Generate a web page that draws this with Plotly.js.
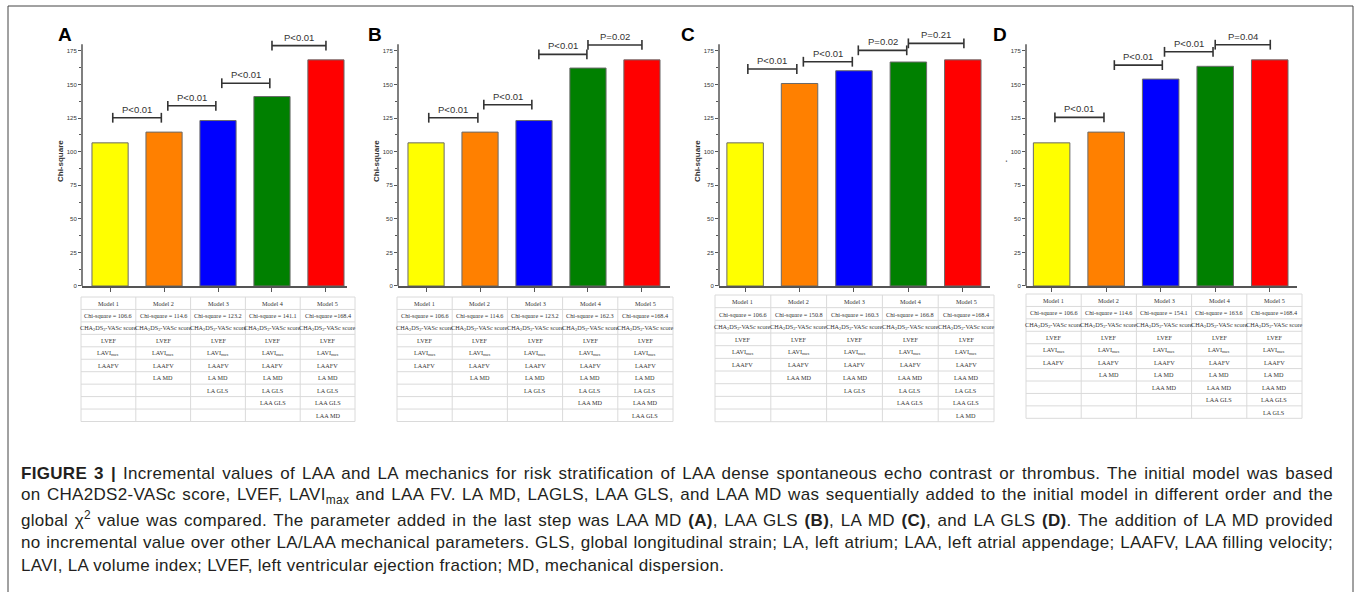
<!DOCTYPE html>
<html><head><meta charset="utf-8">
<script src="https://cdn.plot.ly/plotly-3.0.1.min.js"></script>
<style>html,body{margin:0;padding:0;background:#fff}#chart{width:1357px;height:592px}</style>
</head><body><div id="chart"></div>
<script>
// ---------- data ----------
const models = ['Model 1','Model 2','Model 3','Model 4','Model 5'];
const barColors = ['#FFFF00','#FF8000','#0000FF','#008000','#FF0000'];
const panelLetters = ['A','B','C','D'];
const chiA = [106.6,114.6,123.2,141.1,168.4];
const chiB = [106.6,114.6,123.2,162.3,168.4];
const chiC = [106.6,150.8,160.3,166.8,168.4];
const chiD = [106.6,114.6,154.1,163.6,168.4];
const baseVars = ['CHA<sub>2</sub>DS<sub>2</sub>-VASc score','LVEF','LAVI<sub>max</sub>','LAAFV'];
const addA = ['LA MD','LA GLS','LAA GLS','LAA MD'];
const addB = ['LA MD','LA GLS','LAA MD','LAA GLS'];
const addC = ['LAA MD','LA GLS','LAA GLS','LA MD'];
const addD = ['LA MD','LAA MD','LAA GLS','LA GLS'];
const pLabA = ['P<0.01','P<0.01','P<0.01','P<0.01'];
const pLabB = ['P<0.01','P<0.01','P<0.01','P=0.02'];
const pLabC = ['P<0.01','P<0.01','P=0.02','P=0.21'];
const pLabD = ['P<0.01','P<0.01','P<0.01','P=0.04'];
const pYA = [125.3,134.2,151.0,179.0];
const pYB = [125.3,135.0,172.5,179.5];
const pYC = [161.6,167.0,175.5,180.7];
const pYD = [125.6,164.5,174.4,179.7];
const pSpanA = [[0.05,0.95],[1.07,1.96],[2.07,2.96],[3.0,4.0]];
const pSpanB = [[0.05,0.96],[1.07,1.96],[2.09,2.98],[3.0,4.0]];
const pSpanC = [[0.05,0.95],[1.07,1.97],[2.08,2.97],[3.0,4.02]];
const pSpanD = [[0.06,0.96],[1.15,2.03],[2.07,2.96],[3.0,4.01]];
const yTicks = [0,25,50,75,100,125,150,175];
const yMinor = [12.5,37.5,62.5,87.5,112.5,137.5,162.5];
const yTitles = ['Chi-square','Chi-square','Chi-square','.'];
const caption = [
 '<b>FIGURE 3 |</b> Incremental values of LAA and LA mechanics for risk stratification of LAA dense spontaneous echo contrast or thrombus. The initial model was based',
 'on CHA2DS2-VASc score, LVEF, LAVI<sub>max</sub> and LAA FV. LA MD, LAGLS, LAA GLS, and LAA MD was sequentially added to the initial model in different order and the',
 'global χ<sup>2</sup> value was compared. The parameter added in the last step was LAA MD <b>(A)</b>, LAA GLS <b>(B)</b>, LA MD <b>(C)</b>, and LA GLS <b>(D)</b>. The addition of LA MD provided',
 'no incremental value over other LA/LAA mechanical parameters. GLS, global longitudinal strain; LA, left atrium; LAA, left atrial appendage; LAAFV, LAA filling velocity;',
 'LAVI, LA volume index; LVEF, left ventricular ejection fraction; MD, mechanical dispersion.'
];

// ---------- layout geometry (pixels) ----------
const W = 1357, H = 592;
const px = v => v / W, py = v => 1 - v / H;
const panels = [
  {chi:chiA, add:addA, lab:pLabA, ys:pYA, span:pSpanA, px0:82,  px1:347, range:[-0.52,4.39], tab:[81,355,297,12.45],   letter:[65,35]},
  {chi:chiB, add:addB, lab:pLabB, ys:pYB, span:pSpanB, px0:398, px1:670, range:[-0.52,4.52], tab:[397,673,297,12.45],  letter:[375,35]},
  {chi:chiC, add:addC, lab:pLabC, ys:pYC, span:pSpanC, px0:719, px1:990, range:[-0.48,4.50], tab:[715,994,295,12.67],  letter:[688,35]},
  {chi:chiD, add:addD, lab:pLabD, ys:pYD, span:pSpanD, px0:1026,px1:1297,range:[-0.47,4.50], tab:[1026,1302,294,12.43],letter:[1000,35]}
];
const plotBottom = 286, yMax = 186, pxPerUnit = 235/175;
const plotTop = plotBottom - yMax*pxPerUnit;

const data = [], annotations = [], shapes = [];
const layout = {
  width: W, height: H, margin:{l:0,r:0,t:0,b:0}, showlegend:false,
  paper_bgcolor:'#fff', plot_bgcolor:'rgba(0,0,0,0)',
  font:{family:'Liberation Sans, Arial, sans-serif', color:'#333'},
  annotations, shapes
};
const tabFont = {family:'Liberation Serif, Times New Roman, serif', size:6.2, color:'#333'};
const gridCol = '#dadada';

panels.forEach((p, i) => {
  const n = i === 0 ? '' : String(i+1);
  const xa = 'x'+n, ya = 'y'+n;
  layout['xaxis'+n] = {
    domain:[px(p.px0), px(p.px1)], range:p.range, anchor:ya,
    tickvals:[0,1,2,3,4], showticklabels:false, ticks:'outside', ticklen:4, tickwidth:1, tickcolor:'#555',
    showline:true, linecolor:'#555', linewidth:1.5, showgrid:false, zeroline:false, fixedrange:true
  };
  layout['yaxis'+n] = {
    domain:[py(plotBottom), py(plotTop)], range:[0,yMax], anchor:xa,
    tickvals:yTicks, ticks:'outside', ticklen:3, tickwidth:1, tickcolor:'#555',
    minor:{tickvals:yMinor, ticks:'outside', ticklen:2, tickwidth:1, tickcolor:'#555'},
    tickfont:{size:6, color:'#333'},
    showline:false, showgrid:false, zeroline:false, fixedrange:true,
    title:{text:'<b>'+yTitles[i]+'</b>', font:{size:8, color:'#333'}, standoff:1}
  };
  shapes.push({type:'line', xref:xa+' domain', yref:ya, x0:0, x1:0, y0:0, y1:180, line:{color:'#555', width:1.5}});
  data.push({type:'bar', x:[0,1,2,3,4], y:p.chi, xaxis:xa, yaxis:ya, width:0.67,
    marker:{color:barColors, line:{color:'#6a6a6a', width:1}}, hoverinfo:'skip'});
  p.span.forEach((s, k) => {
    data.push({type:'scatter', mode:'lines+markers', x:s, y:[p.ys[k], p.ys[k]], xaxis:xa, yaxis:ya,
      cliponaxis:false, line:{color:'#333', width:1.6},
      marker:{symbol:'line-ns', size:7, line:{color:'#333', width:1.6}}, hoverinfo:'skip'});
    annotations.push({xref:xa, yref:ya, x:(s[0]+s[1])/2, y:p.ys[k], yanchor:'bottom', yshift:1,
      text:p.lab[k].replace('<','&lt;'), showarrow:false, font:{size:9.5, color:'#333'}});
  });
  annotations.push({xref:'paper', yref:'paper', x:px(p.letter[0]), y:py(p.letter[1]), xanchor:'center', yanchor:'middle',
    text:'<b>'+panelLetters[i]+'</b>', showarrow:false, font:{size:19, color:'#000', family:'Liberation Sans, Arial'}});

  // ---- table on its own hidden axes: columns 0..5, rows 0..10 ----
  const tn = String(i+5), txa = 'x'+tn, tya = 'y'+tn;
  const [L, R, T, rh] = p.tab, cw = (R-L)/5, B = T + 10*rh, pad = 2;
  layout['xaxis'+tn] = {domain:[px(L-pad), px(R+pad)], range:[-pad/cw, 5+pad/cw], visible:false, fixedrange:true, anchor:tya};
  layout['yaxis'+tn] = {domain:[py(B+pad), py(T-pad)], range:[10+pad/rh, -pad/rh], visible:false, fixedrange:true, anchor:txa};
  for (let r = 0; r <= 10; r++) shapes.push({type:'line', xref:txa, yref:tya, x0:0, x1:5, y0:r, y1:r, line:{color:gridCol, width:1}});
  for (let c = 0; c <= 5; c++) shapes.push({type:'line', xref:txa, yref:tya, x0:c, x1:c, y0:0, y1:10, line:{color:gridCol, width:1}});
  models.forEach((m, k) => {
    const col = [m, 'Chi-square ' + (k === 4 ? '=' : '= ') + p.chi[k]].concat(baseVars, p.add.slice(0, k));
    col.forEach((txt, r) => {
      annotations.push({xref:txa, yref:tya, x:k+0.5, y:r+0.5, xanchor:'center', yanchor:'middle',
        text:txt, showarrow:false, font:tabFont});
    });
  });
});

const capY = [473, 496, 519, 542, 565];
const capStart = annotations.length;
caption.forEach((t, k) => {
  annotations.push({xref:'paper', yref:'paper', x:px(19), y:py(capY[k]), xanchor:'left', yanchor:'middle',
    text:t, showarrow:false, align:'left', font:{size:17, color:'#231f20', family:'Liberation Sans, Arial, sans-serif'}});
});
shapes.push({type:'rect', xref:'paper', yref:'paper', x0:px(8), x1:px(1353), y0:py(6), y1:py(620), line:{color:'#444', width:1}});

Plotly.newPlot('chart', data, layout, {staticPlot:true, displayModeBar:false}).then(gd => {
  gd.querySelectorAll('.annotation').forEach(a => {
    const idx = +a.getAttribute('data-index');
    if (idx < capStart) return;
    const t = a.querySelector('text');
    if (!t) return;
    t.style.letterSpacing = '0.3px';
    if (idx < capStart + 4) {
      const w = t.getBBox().width;
      const spaces = (t.textContent.match(/[ \u00a0]/g) || []).length;
      if (spaces) t.style.wordSpacing = Math.max(0, (1331 - 19 - w) / spaces) + 'px';
    }
  });
});
</script>
</body></html>
